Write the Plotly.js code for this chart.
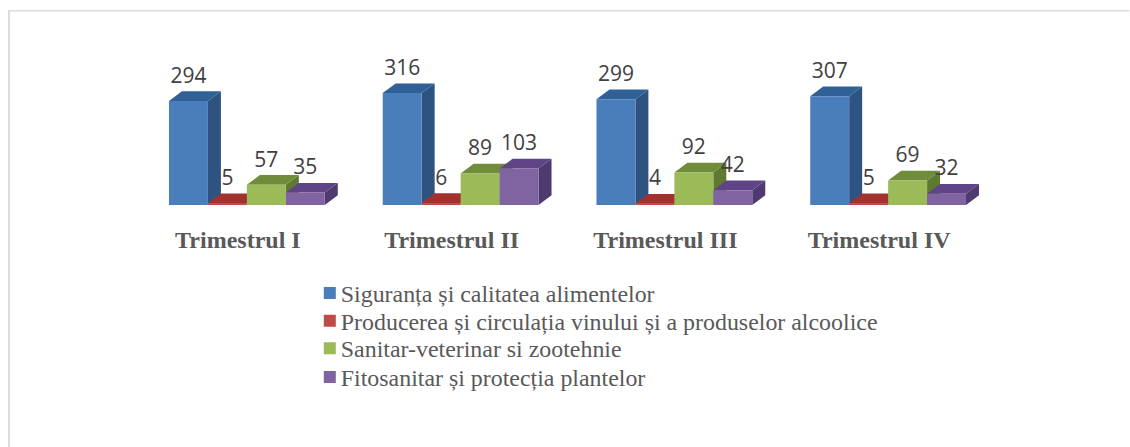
<!DOCTYPE html>
<html>
<head>
<meta charset="utf-8">
<script src="https://cdn.plot.ly/plotly-3.0.1.min.js"></script>
<style>html,body{margin:0;padding:0;background:#fff}#chart{width:1130px;height:447px}</style>
</head>
<body>
<div id="chart"></div>
<script>
var categories = ["Trimestrul I", "Trimestrul II", "Trimestrul III", "Trimestrul IV"];
var seriesNames = [
  "Siguranța și calitatea alimentelor",
  "Producerea și circulația vinului și a produselor alcoolice",
  "Sanitar-veterinar si zootehnie",
  "Fitosanitar și protecția plantelor"
];
var siguranta = [294, 316, 299, 307];
var vin = [5, 6, 4, 5];
var sanitar = [57, 89, 92, 69];
var fitosanitar = [35, 103, 42, 32];
var frontColors = ["#4a7ebb", "#be4b48", "#9bbb59", "#8064a2"];
var topColors = ["#2f6096", "#a3322f", "#6f8c3a", "#5f4488"];
var sideColors = ["#2f5380", "#8c2b29", "#5f7a30", "#4f3a70"];

var allSeries = [siguranta, vin, sanitar, fitosanitar];
var positions = categories.map(function (_, i) { return i; });

// plot geometry (pixels)
var plotLeft = 139.5, plotWidth = 856, plotTop = 40, plotBottom = 205;
var yMax = 466;
var pxPerUnitY = (plotBottom - plotTop) / yMax;
var pxPerUnitX = plotWidth / 4;
var barW = 39 / pxPerUnitX;
var depthX = 13 / pxPerUnitX;
var depthY = 9.7 / pxPerUnitY;
var labelLift = 23.5 / pxPerUnitY;

function paperX(px) { return (px - plotLeft) / plotWidth; }
function paperY(px) { return (plotBottom - px) / (plotBottom - plotTop); }

var traces = [];

// Side and top faces, derived from the values, drawn left to right underneath the fronts
allSeries.forEach(function (vals, s) {
  var sx = [], sy = [], tx = [], ty = [];
  vals.forEach(function (v, i) {
    var l = i + (s - 2) * barW, r = l + barW;
    sx.push(r, r + depthX, r + depthX, r, r, null);
    sy.push(0, depthY, v + depthY, v, 0, null);
    tx.push(l, l + depthX, r + depthX, r, l, null);
    ty.push(v, v + depthY, v + depthY, v, v, null);
  });
  traces.push({type: "scatter", mode: "lines", x: sx, y: sy, fill: "toself", fillcolor: sideColors[s],
    line: {width: 0, color: sideColors[s]}, showlegend: false, hoverinfo: "skip"});
  traces.push({type: "scatter", mode: "lines", x: tx, y: ty, fill: "toself", fillcolor: topColors[s],
    line: {width: 0, color: topColors[s]}, showlegend: false, hoverinfo: "skip"});
});

// Front faces: the real bars, on an overlaying axis pair so that they sit above the faces
allSeries.forEach(function (vals, s) {
  traces.push({type: "bar", name: seriesNames[s], x: positions, y: vals, xaxis: "x2", yaxis: "y2",
    marker: {color: frontColors[s], line: {width: 0}}, offsetgroup: String(s)});
});

// Data labels
allSeries.forEach(function (vals, s) {
  traces.push({type: "scatter", mode: "text", xaxis: "x2", yaxis: "y2",
    x: positions.map(function (i) { return i + (s - 1.5) * barW; }),
    y: vals.map(function (v) { return v + labelLift; }),
    text: vals.map(String), textposition: "middle center", cliponaxis: false,
    textfont: {family: "'Open Sans', sans-serif", size: 21, color: "#404040"},
    showlegend: false, hoverinfo: "skip"});
});

var frame = {color: "#dcdcdc", width: 2};
var layout = {
  width: 1130, height: 447,
  margin: {l: plotLeft, r: 1130 - plotLeft - plotWidth, t: plotTop, b: 447 - plotBottom, pad: 0},
  paper_bgcolor: "#ffffff", plot_bgcolor: "rgba(0,0,0,0)",
  barmode: "group", bargap: 1 - 4 * barW, bargroupgap: 0,
  xaxis: {range: [-0.5, 3.5], tickmode: "array", tickvals: positions, ticktext: categories,
    showgrid: false, zeroline: false, showline: false, ticks: "",
    tickfont: {family: "'Liberation Serif', serif", size: 24, color: "#595959", weight: "bold"},
    ticklabelstandoff: 18, ticklabelshift: -9, fixedrange: true},
  yaxis: {range: [0, yMax], visible: false, fixedrange: true},
  xaxis2: {range: [-0.5, 3.5], overlaying: "x", visible: false, fixedrange: true},
  yaxis2: {range: [0, yMax], overlaying: "y", visible: false, fixedrange: true},
  showlegend: true,
  legend: {x: paperX(309.5), y: paperY(271), xanchor: "left", yanchor: "top", orientation: "v",
    bgcolor: "rgba(0,0,0,0)", borderwidth: 0, itemclick: false, itemdoubleclick: false,
    font: {family: "'Liberation Serif', serif", size: 23.9, color: "#595959"}},
  shapes: [
    {type: "line", xref: "paper", yref: "paper", x0: paperX(8), x1: paperX(1130), y0: paperY(10.7), y1: paperY(10.7), line: {color: "#dcdcdc", width: 1.5}, layer: "below"},
    {type: "line", xref: "paper", yref: "paper", x0: paperX(8.3), x1: paperX(8.3), y0: paperY(10), y1: paperY(447), line: frame, layer: "below"}
  ]
};

// Legend rows in the reference are tighter than Plotly's default, with the text close to the swatch
var legendRowOffsets = [0, 27.7, 55.1, 84];
var legendTextX = 31;

Plotly.newPlot("chart", traces, layout, {displayModeBar: false}).then(function (gd) {
  var rows = gd.querySelectorAll(".legend .traces");
  var first = rows.length ? /translate\(\s*([\d.\-]+)[ ,]+([\d.\-]+)/.exec(rows[0].getAttribute("transform")) : null;
  rows.forEach(function (row, i) {
    if (first) row.setAttribute("transform", "translate(" + first[1] + "," + (parseFloat(first[2]) + legendRowOffsets[i]) + ")");
    var t = row.querySelector(".legendtext");
    if (t) {
      t.setAttribute("x", legendTextX);
      t.querySelectorAll("tspan").forEach(function (ts) { if (ts.hasAttribute("x")) ts.setAttribute("x", legendTextX); });
    }
  });
});
</script>
</body>
</html>
